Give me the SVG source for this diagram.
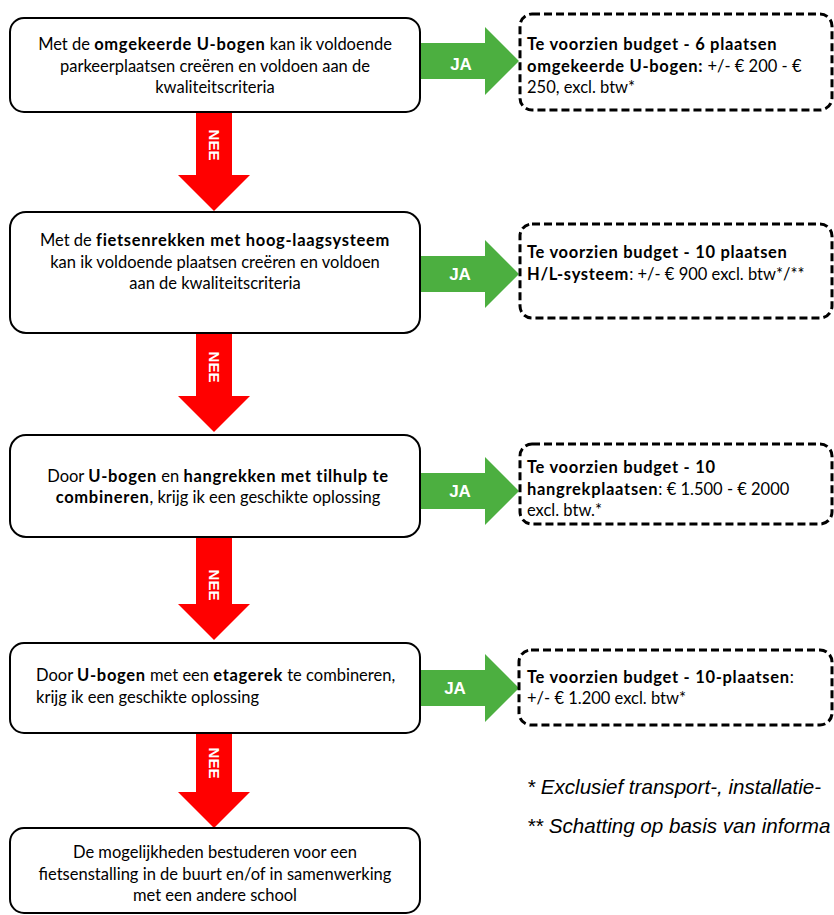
<svg xmlns="http://www.w3.org/2000/svg" width="834" height="915" viewBox="0 0 834 915">
<style>
.box{fill:#fff;stroke:#000;stroke-width:2}
.dash{fill:#fff;stroke:#000;stroke-width:3;stroke-dasharray:8 4}
.t{font-family:Lato,"Liberation Sans",sans-serif;font-size:16.5px;letter-spacing:0px;fill:#000}
.c{text-anchor:middle}
.b{font-weight:bold;letter-spacing:0.7px}
.red{fill:#FF0000}
.green{fill:#4CAF40}
.lbl{font-family:"Liberation Sans",Arial,sans-serif;font-weight:bold;font-size:15px;fill:#fff;text-anchor:middle}
.ja{font-size:17px}
.note{font-family:"Liberation Sans",Arial,sans-serif;font-style:italic;font-size:20.6px;fill:#000}
</style>
<rect width="834" height="915" fill="#fff"/>
<g id="connectors">
  <path class="red" d="M196,112 H232 V175 H250 L214,211 L178,175 H196 Z"/>
  <text class="lbl" transform="translate(209,145) rotate(90)">NEE</text>
  <path class="red" d="M196,333 H232 V396 H250 L214,432 L178,396 H196 Z"/>
  <text class="lbl" transform="translate(209,367) rotate(90)">NEE</text>
  <path class="red" d="M196,537 H232 V604 H250 L214,640 L178,604 H196 Z"/>
  <text class="lbl" transform="translate(209,585) rotate(90)">NEE</text>
  <path class="red" d="M196,733 H232 V792 H250 L214,828 L178,792 H196 Z"/>
  <text class="lbl" transform="translate(209,763) rotate(90)">NEE</text>
  <path class="green" d="M421,43 H485 V27 L519,61 L485,95 V79 H421 Z"/>
  <text class="lbl ja" x="461" y="70">JA</text>
  <path class="green" d="M421,256 H485 V240 L519,274 L485,308 V292 H421 Z"/>
  <text class="lbl ja" x="460" y="280">JA</text>
  <path class="green" d="M421,473 H485 V457 L519,491 L485,525 V509 H421 Z"/>
  <text class="lbl ja" x="460" y="497">JA</text>
  <path class="green" d="M421,670 H485 V654 L519,688 L485,722 V706 H421 Z"/>
  <text class="lbl ja" x="455" y="694">JA</text>
</g>
<g id="q1">
  <rect class="box" x="10" y="18" width="410" height="94" rx="14"/>
  <text class="t c" x="215" y="50">Met de <tspan class="b">omgekeerde U-bogen</tspan> kan ik voldoende</text>
  <text class="t c" x="215" y="72">parkeerplaatsen creëren en voldoen aan de</text>
  <text class="t c" x="215" y="93">kwaliteitscriteria</text>
</g>
<g id="a1">
  <rect class="dash" x="520" y="14" width="312" height="96" rx="12"/>
  <text class="t" x="527" y="50"><tspan class="b">Te voorzien budget - 6 plaatsen</tspan></text>
  <text class="t" x="527" y="72"><tspan class="b">omgekeerde U-bogen:</tspan> +/- € 200 - €</text>
  <text class="t" x="527" y="93">250, excl. btw*</text>
</g>
<g id="q2">
  <rect class="box" x="10" y="212" width="410" height="121" rx="16"/>
  <text class="t c" x="215" y="246">Met de <tspan class="b">fietsenrekken met hoog-laagsysteem</tspan></text>
  <text class="t c" x="215" y="268">kan ik voldoende plaatsen creëren en voldoen</text>
  <text class="t c" x="215" y="289">aan de kwaliteitscriteria</text>
</g>
<g id="a2">
  <rect class="dash" x="520" y="224" width="312" height="94" rx="12"/>
  <text class="t" x="527" y="258"><tspan class="b">Te voorzien budget - 10 plaatsen</tspan></text>
  <text class="t" x="527" y="280"><tspan class="b">H/L-systeem</tspan>: +/- € 900 excl. btw*/**</text>
</g>
<g id="q3">
  <rect class="box" x="10" y="435" width="410" height="102" rx="16"/>
  <text class="t c" x="218" y="482">Door <tspan class="b">U-bogen</tspan> en <tspan class="b">hangrekken met tilhulp te</tspan></text>
  <text class="t c" x="218" y="503"><tspan class="b">combineren</tspan>, krijg ik een geschikte oplossing</text>
</g>
<g id="a3">
  <rect class="dash" x="520" y="444" width="312" height="80" rx="12"/>
  <text class="t" x="527" y="473"><tspan class="b">Te voorzien budget - 10</tspan></text>
  <text class="t" x="527" y="495"><tspan class="b">hangrekplaatsen</tspan>: € 1.500 - € 2000</text>
  <text class="t" x="527" y="516">excl. btw.*</text>
</g>
<g id="q4">
  <rect class="box" x="10" y="643" width="410" height="90" rx="14"/>
  <text class="t" x="36" y="681">Door <tspan class="b">U-bogen</tspan> met een <tspan class="b">etagerek</tspan> te combineren,</text>
  <text class="t" x="36" y="703">krijg ik een geschikte oplossing</text>
</g>
<g id="a4">
  <rect class="dash" x="519" y="650" width="313" height="75" rx="12"/>
  <text class="t" x="527" y="683"><tspan class="b">Te voorzien budget - 10-plaatsen</tspan>:</text>
  <text class="t" x="527" y="704">+/- € 1.200 excl. btw*</text>
</g>
<g id="end">
  <rect class="box" x="10" y="828" width="410" height="85" rx="14"/>
  <text class="t c" x="215" y="858">De mogelijkheden bestuderen voor een</text>
  <text class="t c" x="215" y="880">fietsenstalling in de buurt en/of in samenwerking</text>
  <text class="t c" x="215" y="901">met een andere school</text>
</g>
<g id="notes">
  <text class="note" x="527" y="794">* Exclusief transport-, installatie-</text>
  <text class="note" x="527" y="833">** Schatting op basis van informa</text>
</g>
</svg>
